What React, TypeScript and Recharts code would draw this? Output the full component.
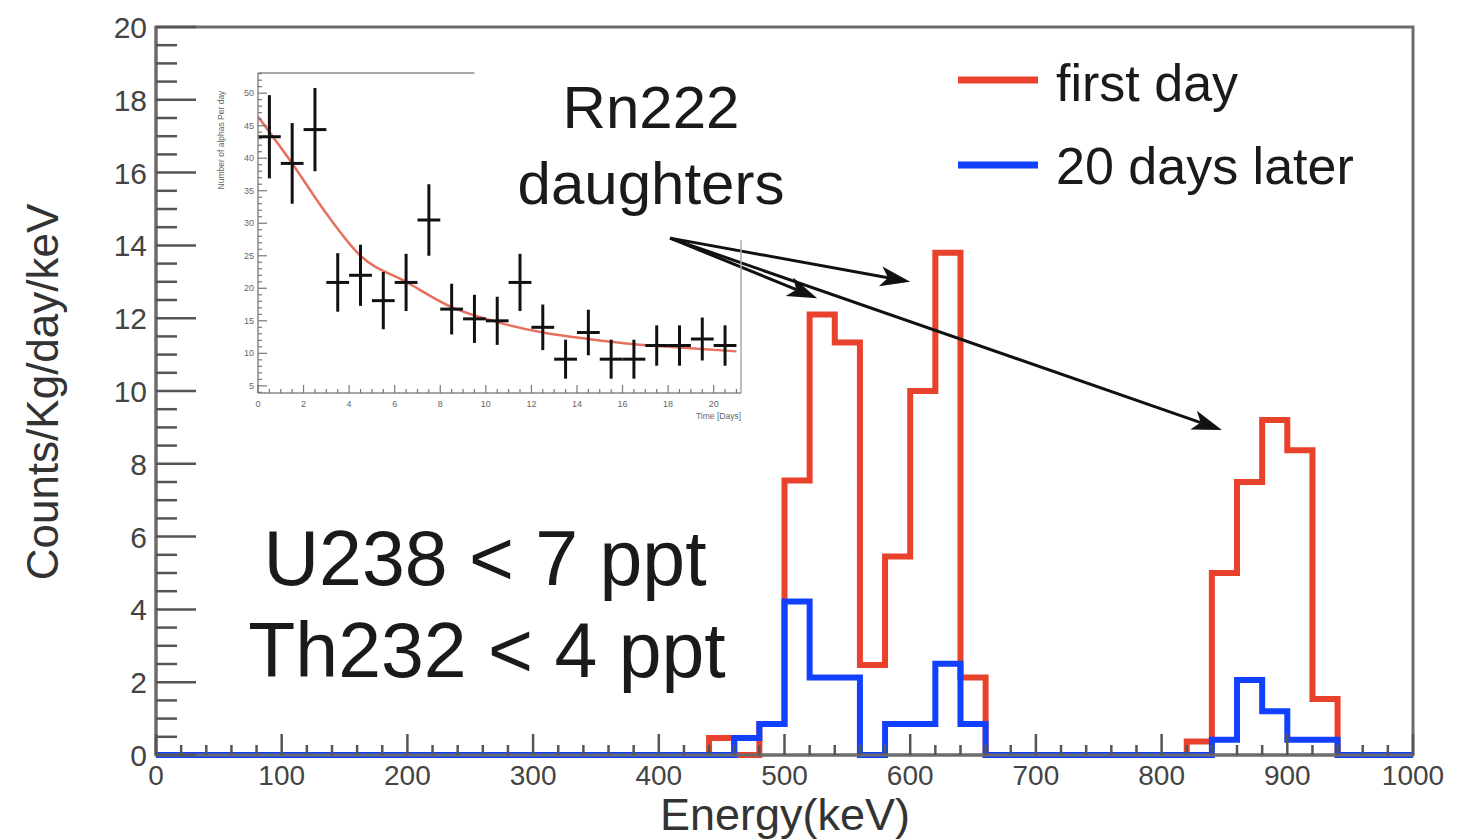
import React from 'react';
import {
  LineChart, Line, XAxis, YAxis, ReferenceLine, ReferenceArea,
  ComposedChart, Scatter, ErrorBar,
} from 'recharts';

// ---- main histogram: 20 keV bins, 0..1000 keV ----
const BIN_WIDTH = 20;
const firstDay = [
  0, 0, 0, 0, 0, 0, 0, 0, 0, 0,             // 0-180
  0, 0, 0, 0, 0, 0, 0, 0, 0, 0,             // 200-380
  0, 0, 0.47, 0, 0.85, 7.54, 12.1, 11.33, 2.47, 5.45, // 400-580
  10.0, 13.8, 2.13, 0, 0, 0, 0, 0, 0, 0,    // 600-780
  0, 0.37, 5.0, 7.5, 9.2, 8.37, 1.54, 0, 0, 0, // 800-980
];
const twentyDaysLater = [
  0, 0, 0, 0, 0, 0, 0, 0, 0, 0,
  0, 0, 0, 0, 0, 0, 0, 0, 0, 0,
  0, 0, 0, 0.47, 0.85, 4.22, 2.13, 2.13, 0, 0.85,
  0.85, 2.51, 0.85, 0, 0, 0, 0, 0, 0, 0,
  0, 0, 0.42, 2.06, 1.2, 0.42, 0.42, 0, 0, 0,
];

const xMajorTicks = [0, 100, 200, 300, 400, 500, 600, 700, 800, 900, 1000];
const yMajorTicks = [0, 2, 4, 6, 8, 10, 12, 14, 16, 18, 20];

// annotation arrows (keV, counts)
const arrowStart = { x: 409, y: 14.2 };
const arrowTips = [
  { x: 526, y: 12.55 },
  { x: 600, y: 13.0 },
  { x: 848, y: 8.93 },
];

// ---- inset: alpha rate vs time ----
const days = [0.5, 1.5, 2.5, 3.5, 4.5, 5.5, 6.5, 7.5, 8.5, 9.5, 10.5, 11.5, 12.5, 13.5, 14.5, 15.5, 16.5, 17.5, 18.5, 19.5, 20.5];
const alphaRate = [43.3, 39.2, 44.4, 20.9, 22.0, 18.1, 20.9, 30.5, 16.8, 15.3, 15.0, 20.9, 14.0, 9.1, 13.2, 9.1, 9.1, 11.2, 11.2, 12.2, 11.2];
const alphaErr = [6.4, 6.2, 6.4, 4.5, 4.7, 4.4, 4.4, 5.5, 3.9, 3.7, 3.7, 4.4, 3.5, 3.0, 3.5, 3.0, 3.0, 3.1, 3.1, 3.3, 3.1];
const fitDays = [0, 1.5, 3, 4.5, 6.5, 8.5, 10.5, 12.5, 14.5, 16.5, 18.5, 21];
const fitRate = [46.4, 39.2, 31.5, 25.0, 21.0, 17.1, 14.8, 13.2, 12.2, 11.4, 10.9, 10.3];
const insetYMajor = [5, 10, 15, 20, 25, 30, 35, 40, 45, 50];
const insetXMajor = [0, 2, 4, 6, 8, 10, 12, 14, 16, 18, 20];

const RED = '#e8412c';
const BLUE = '#1240ff';
const FRAME = '#6c6c6c';
const FONT = '"Liberation Sans", Arial, Helvetica, sans-serif';

const histRows = firstDay.map((v, i) => ({ energy: i * BIN_WIDTH, first: v, later: twentyDaysLater[i] }));
histRows.push({ energy: firstDay.length * BIN_WIDTH, first: firstDay[firstDay.length - 1], later: twentyDaysLater[twentyDaysLater.length - 1] });

const steps = (from: number, to: number, step: number) => {
  const out: number[] = [];
  for (let v = from; v <= to + 1e-9; v += step) out.push(Math.round(v * 1000) / 1000);
  return out;
};
const xTicks = steps(0, 1000, 20);
const yTicks = steps(0, 20, 0.5);

const insetPoints = days.map((d, i) => ({ day: d, rate: alphaRate[i], err: alphaErr[i], xerr: 0.5 }));
const fitRows = fitDays.map((d, i) => ({ day: d, rate: fitRate[i] }));
const insetYTicks = steps(4, 53, 1);
const insetXTicks = steps(0, 21, 0.5);

const XTick = (props: any) => {
  const { x, y, payload } = props;
  const major = xMajorTicks.includes(payload.value);
  return (
    <g>
      <line x1={x} y1={y} x2={x} y2={y - (major ? 21 : 10)} stroke="#555" strokeWidth={2.5} />
      {major && (
        <text x={x} y={y + 30} textAnchor="middle" fontSize={28} fill="#444" fontFamily={FONT}>{payload.value}</text>
      )}
    </g>
  );
};

const YTick = (props: any) => {
  const { x, y, payload } = props;
  const major = yMajorTicks.includes(payload.value);
  return (
    <g>
      <line x1={x} y1={y} x2={x + (major ? 40 : 21)} y2={y} stroke="#555" strokeWidth={2.5} />
      {major && (
        <text x={x - 9} y={y + 11} textAnchor="end" fontSize={30} fill="#444" fontFamily={FONT}>{payload.value}</text>
      )}
    </g>
  );
};

const InsetXTick = (props: any) => {
  const { x, y, payload } = props;
  const major = insetXMajor.includes(payload.value);
  return (
    <g>
      <line x1={x} y1={y} x2={x} y2={y - (major ? 8 : 4)} stroke="#777" strokeWidth={1.2} />
      {major && (
        <text x={x} y={y + 14} textAnchor="middle" fontSize={9} fill="#666" fontFamily={FONT}>{payload.value}</text>
      )}
    </g>
  );
};

const InsetYTick = (props: any) => {
  const { x, y, payload } = props;
  const major = insetYMajor.includes(payload.value);
  return (
    <g>
      <line x1={x} y1={y} x2={x + (major ? 9 : 4)} y2={y} stroke="#777" strokeWidth={1.2} />
      {major && (
        <text x={x - 4} y={y + 3} textAnchor="end" fontSize={9} fill="#666" fontFamily={FONT}>{payload.value}</text>
      )}
    </g>
  );
};

const Arrow = (p: any) => {
  const { x1, y1, x2, y2 } = p;
  const ang = Math.atan2(y2 - y1, x2 - x1);
  const L = 30;
  const W = 10;
  const bx = x2 - L * Math.cos(ang);
  const by = y2 - L * Math.sin(ang);
  const nx = x2 - L * 0.75 * Math.cos(ang);
  const ny = y2 - L * 0.75 * Math.sin(ang);
  const px = -Math.sin(ang) * W;
  const py = Math.cos(ang) * W;
  return (
    <g>
      <line x1={x1} y1={y1} x2={nx} y2={ny} stroke="#111" strokeWidth={3} />
      <polygon points={`${x2},${y2} ${bx + px},${by + py} ${nx},${ny} ${bx - px},${by - py}`} fill="#111" />
    </g>
  );
};

export default function App() {
  return (
    <div style={{ position: 'fixed', left: 0, top: 0, width: 1473, height: 839, background: '#fff', fontFamily: FONT }}>
      <LineChart width={1473} height={839} data={histRows} margin={{ top: 27, right: 60, bottom: 83, left: 155 }}>
        <XAxis
          dataKey="energy" type="number" domain={[0, 1000]} ticks={xTicks} interval={0}
          height={1} tickSize={0} tickMargin={0} tickLine={false}
          axisLine={{ stroke: FRAME, strokeWidth: 3 }} tick={XTick}
        />
        <YAxis
          type="number" domain={[0, 20]} ticks={yTicks} interval={0}
          width={1} tickSize={0} tickMargin={0} tickLine={false}
          axisLine={{ stroke: FRAME, strokeWidth: 3 }} tick={YTick}
        />
        <ReferenceArea x1={0} x2={1000} y1={0} y2={20} fill="none" stroke={FRAME} strokeWidth={3} />
        <Line type="stepAfter" dataKey="first" name="first day" stroke={RED} strokeWidth={6} dot={false} isAnimationActive={false} />
        <Line type="stepAfter" dataKey="later" name="20 days later" stroke={BLUE} strokeWidth={6} dot={false} isAnimationActive={false} />
        {arrowTips.map((t, i) => (
          <ReferenceLine key={i} segment={[arrowStart, t]} shape={Arrow} />
        ))}
      </LineChart>

      <div style={{ position: 'absolute', left: 180, top: 60 }}>
        <ComposedChart width={580} height={370} margin={{ top: 13, right: 19, bottom: 36, left: 77 }}>
          <XAxis
            dataKey="day" type="number" domain={[0, 21.2]} ticks={insetXTicks} interval={0}
            height={1} tickSize={0} tickMargin={0} tickLine={false} allowDataOverflow
            axisLine={{ stroke: '#888', strokeWidth: 1.5 }} tick={InsetXTick}
          />
          <YAxis
            type="number" domain={[3.9, 53.1]} ticks={insetYTicks} interval={0}
            width={1} tickSize={0} tickMargin={0} tickLine={false} allowDataOverflow
            axisLine={{ stroke: '#888', strokeWidth: 1.5 }} tick={InsetYTick}
          />
          <ReferenceLine segment={[{ x: 0, y: 53.1 }, { x: 9.5, y: 53.1 }]} stroke="#aaa" strokeWidth={2} />
          <ReferenceLine segment={[{ x: 21.2, y: 3.9 }, { x: 21.2, y: 27.4 }]} stroke="#aaa" strokeWidth={1.5} />
          <Line data={fitRows} type="monotone" dataKey="rate" stroke="#e8705e" strokeWidth={2.5} dot={false} isAnimationActive={false} />
          <Scatter data={insetPoints} dataKey="rate" shape={() => <g />} isAnimationActive={false}>
            <ErrorBar dataKey="err" direction="y" width={0} stroke="#111" strokeWidth={3} />
            <ErrorBar dataKey="xerr" direction="x" width={0} stroke="#111" strokeWidth={3} />
          </Scatter>
        </ComposedChart>
      </div>

      <svg width={1473} height={839} style={{ position: 'absolute', left: 0, top: 0, pointerEvents: 'none' }} fontFamily={FONT}>
        {/* axis titles */}
        <text x={785} y={830} textAnchor="middle" fontSize={45} fill="#333">Energy(keV)</text>
        <text transform="translate(58,392) rotate(-90)" textAnchor="middle" fontSize={44} fill="#333">Counts/Kg/day/keV</text>
        {/* inset titles */}
        <text transform="translate(224,140) rotate(-90)" textAnchor="middle" fontSize={8.5} fill="#666">Number of alphas Per day</text>
        <text x={741} y={419} textAnchor="end" fontSize={8.5} fill="#666">Time [Days]</text>
        {/* annotations */}
        <text x={651} y={128} textAnchor="middle" fontSize={60} fill="#1a1a1a">Rn222</text>
        <text x={651} y={204} textAnchor="middle" fontSize={60} fill="#1a1a1a">daughters</text>
        <text x={485} y={585} textAnchor="middle" fontSize={77} fill="#1a1a1a">U238 &lt; 7 ppt</text>
        <text x={487} y={677} textAnchor="middle" fontSize={77} fill="#1a1a1a">Th232 &lt; 4 ppt</text>
        {/* legend */}
        <line x1={958} y1={80} x2={1038} y2={80} stroke={RED} strokeWidth={7} />
        <text x={1056} y={101} fontSize={52} fill="#1a1a1a">first day</text>
        <line x1={958} y1={165} x2={1038} y2={165} stroke={BLUE} strokeWidth={7} />
        <text x={1056} y={184} fontSize={52} fill="#1a1a1a">20 days later</text>
      </svg>
    </div>
  );
}
